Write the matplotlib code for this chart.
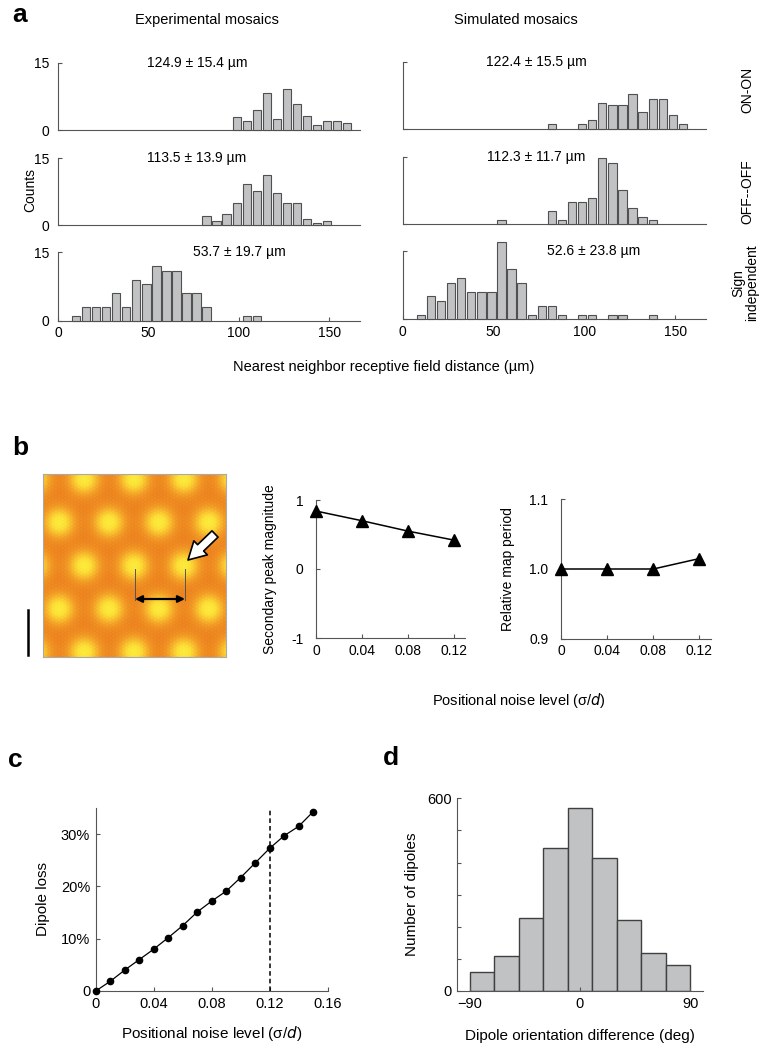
import numpy as np
import matplotlib.pyplot as plt
from matplotlib.colors import LinearSegmentedColormap

plt.rcParams['font.family'] = ['Liberation Sans', 'DejaVu Sans']
plt.rcParams['axes.linewidth'] = 0.8

# ---- data ----
# panel a: histogram counts, bins of ~5.55 um starting at 10 um
bin_start, bin_w = 10.0, 5.55
exp_on = [0, 0, 0, 0, 0, 0, 0, 0, 0, 0, 0, 0, 0, 0, 0, 0, 3, 2, 4.6, 8.3, 2.6, 9.2, 5.8, 3.1, 1.1, 2, 2, 1.6, 0]
sim_on = [0, 0, 0, 0, 0, 0, 0, 0, 0, 0, 0, 0, 0, 1, 0, 0, 1, 2, 5.7, 5.2, 5.2, 7.7, 3.7, 6.7, 6.7, 3, 1, 0, 0]
exp_off = [0, 0, 0, 0, 0, 0, 0, 0, 0, 0, 0, 0, 0, 2, 1, 2.5, 5, 9.2, 7.6, 11.2, 7.2, 5, 5, 1.5, 0.5, 1, 0, 0, 0]
sim_off = [0, 0, 0, 0, 0, 0, 0, 0, 1, 0, 0, 0, 0, 3, 1, 5, 5, 5.9, 14.6, 13.5, 7.5, 3.6, 1.5, 1, 0, 0, 0, 0, 0]
exp_ind = [1, 3, 3, 3, 6, 3, 9, 8, 12, 11, 11, 6, 6, 3, 0, 0, 0, 1, 1, 0, 0, 0, 0, 0, 0, 0, 0, 0, 0]
sim_ind = [1, 5, 4, 8, 9, 6, 6, 6, 17, 11, 8, 1, 3, 3, 1, 0, 1, 1, 0, 1, 1, 0, 0, 1, 0, 0, 0, 0, 0]
stats = [['124.9 ± 15.4 µm', '122.4 ± 15.5 µm'],
         ['113.5 ± 13.9 µm', '112.3 ± 11.7 µm'],
         ['53.7 ± 19.7 µm', '52.6 ± 23.8 µm']]
row_names = ['ON-ON', 'OFF--OFF', 'Sign\nindependent']

# panel b
noise_b = [0, 0.04, 0.08, 0.12]
peak_mag = [0.84, 0.70, 0.55, 0.42]
map_period = [1.0, 1.0, 1.0, 1.015]

# panel c
noise_c = [0, 0.01, 0.02, 0.03, 0.04, 0.05, 0.06, 0.07, 0.08, 0.09, 0.10, 0.11, 0.12, 0.13, 0.14, 0.15]
dipole_loss = [0, 1.85, 4.0, 6.0, 8.0, 10.2, 12.5, 15.1, 17.2, 19.1, 21.7, 24.5, 27.3, 29.7, 31.5, 34.3]

# panel d
orient_edges = [-90, -70, -50, -30, -10, 10, 30, 50, 70, 90]
orient_counts = [60, 108, 227, 445, 571, 415, 221, 117, 80]

W, H = 767, 1050
fig = plt.figure(figsize=(W / 100, H / 100), dpi=100)
SPINE = '#555555'
BAR = '#c1c2c4'


def add_ax(x0, y0, x1, y1):
    return fig.add_axes([x0 / W, 1 - y1 / H, (x1 - x0) / W, (y1 - y0) / H])


def ftext(x, y, s, **kw):
    fig.text(x / W, 1 - y / H, s, **kw)


def style(ax):
    for s in ['top', 'right']:
        ax.spines[s].set_visible(False)
    for s in ['left', 'bottom']:
        ax.spines[s].set_color(SPINE)
    ax.tick_params(direction='in', length=3, width=0.8, color=SPINE, labelsize=10, pad=4)


# ---- panel a ----
centers = bin_start + bin_w * np.arange(len(exp_on))
hists = [[exp_on, sim_on], [exp_off, sim_off], [exp_ind, sim_ind]]
rows_px = [[(62.7, 130.3), (61.7, 128.7)],
           [(158.3, 225.3), (156.7, 224.0)],
           [(252.3, 320.7), (250.7, 319.3)]]
cols_px = [(58, 360), (402.7, 706)]
for r in range(3):
    for c in range(2):
        y0, y1 = rows_px[r][c]
        x0, x1 = cols_px[c]
        ax = add_ax(x0, y0, x1, y1)
        style(ax)
        cnt = np.array(hists[r][c], dtype=float)
        m = cnt > 0
        ax.bar(centers[m], cnt[m], width=bin_w * 0.83, color=BAR, edgecolor='#505050',
               linewidth=0.8, clip_on=False, zorder=3)
        ax.set_xlim(0, 167)
        ax.set_ylim(0, 15)
        ax.set_yticks([0, 15])
        if c == 0:
            ax.set_yticklabels(['0', '15'])
            ax.tick_params(axis='y', pad=6)
        else:
            ax.set_yticklabels([])
        if r == 2:
            ax.set_xticks([0, 50, 100, 150])
        else:
            ax.set_xticks([])
        ax.text([0.46, 0.44][c] if r < 2 else [0.6, 0.63][c], 1.0, stats[r][c],
                transform=ax.transAxes, ha='center', va='center', fontsize=10)

ftext(12, 15, 'a', fontsize=19, fontweight='bold', va='center')
ftext(207, 20, 'Experimental mosaics', fontsize=10.5, ha='center', va='center')
ftext(516, 20, 'Simulated mosaics', fontsize=10.5, ha='center', va='center')
ftext(30, 190, 'Counts', fontsize=10, rotation=90, ha='center', va='center')
ftext(747, 90, row_names[0], fontsize=10, rotation=90, ha='center', va='center')
ftext(747, 192, row_names[1], fontsize=10, rotation=90, ha='center', va='center')
ftext(745, 283, row_names[2], fontsize=10, rotation=90, ha='center', va='center',
      multialignment='center', linespacing=1.0)
ftext(384, 367, 'Nearest neighbor receptive field distance (µm)', fontsize=10.5,
      ha='center', va='center')

# ---- panel b: image ----
ftext(12, 448, 'b', fontsize=19, fontweight='bold', va='center')
axi = add_ax(43, 474, 226, 657)
n = 400
g = np.linspace(0, 183, n)
X, Y = np.meshgrid(g, g)
Z = np.zeros_like(X)
for j in range(-1, 6):
    yc = 5 + 43.3 * j
    off = 16 + (25 if j % 2 == 0 else 0)
    for i in range(-2, 6):
        xc = off + 50 * i
        Z += np.exp(-((X - xc) ** 2 + (Y - yc) ** 2) / (2 * 11 ** 2))
k = 2 * np.pi / 3.2
tex = (np.cos(k * X) + np.cos(k * (0.5 * X + 0.866 * Y)) + np.cos(k * (-0.5 * X + 0.866 * Y))) / 3
Z = Z + 0.07 * tex
cmap = LinearSegmentedColormap.from_list('oy', ['#ec801e', '#f29a26', '#f8bd2e', '#fcdf36', '#fdf040'])
axi.imshow(Z, cmap=cmap, extent=[0, 183, 183, 0], vmin=0.05, vmax=1.1, interpolation='bilinear')
axi.set_xlim(0, 183)
axi.set_ylim(183, 0)
axi.set_xticks([])
axi.set_yticks([])
for s in axi.spines.values():
    s.set_color('#aaaaaa')
    s.set_linewidth(0.8)
axi.plot([92, 92], [95, 126], color='#555555', lw=0.7)
axi.plot([142, 142], [95, 126], color='#555555', lw=0.7)
axi.annotate('', xy=(92, 125), xytext=(142, 125),
             arrowprops=dict(arrowstyle='<|-|>', color='black', lw=1.6, mutation_scale=10,
                             shrinkA=0, shrinkB=0))
axi.annotate('', xy=(145, 86), xytext=(172, 60),
             arrowprops=dict(arrowstyle='simple,head_length=0.9,head_width=1.0,tail_width=0.45',
                             facecolor='white', edgecolor='black', lw=1.2, mutation_scale=14,
                             shrinkA=0, shrinkB=0))
axi.plot([-15, -15], [136, 181], color='black', lw=1.8, clip_on=False)

# ---- panel b: line plots ----
axb1 = add_ax(316, 500, 465, 638)
style(axb1)
axb1.plot(noise_b, peak_mag, color='black', lw=1.1, marker='^', ms=8, clip_on=False, zorder=3)
axb1.set_xlim(0, 0.13)
axb1.set_ylim(-1, 1)
axb1.set_yticks([-1, 0, 1])
axb1.set_yticklabels(['-1', '0', '1'])
axb1.set_xticks(noise_b)
axb1.set_xticklabels(['0', '0.04', '0.08', '0.12'])
axb1.tick_params(axis='y', pad=9)
axb1.set_ylabel('Secondary peak magnitude', fontsize=10, labelpad=10)

axb2 = add_ax(561, 499.3, 711, 638.7)
style(axb2)
axb2.plot(noise_b, map_period, color='black', lw=1.1, marker='^', ms=8, clip_on=False, zorder=3)
axb2.set_xlim(0, 0.13)
axb2.set_ylim(0.9, 1.1)
axb2.set_yticks([0.9, 1.0, 1.1])
axb2.set_yticklabels(['0.9', '1.0', '1.1'])
axb2.set_xticks(noise_b)
axb2.set_xticklabels(['0', '0.04', '0.08', '0.12'])
axb2.tick_params(axis='y', pad=9)
axb2.set_ylabel('Relative map period', fontsize=10, labelpad=10)

ftext(519, 700, 'Positional noise level (σ/$d$)', fontsize=10.5, ha='center', va='center')

# ---- panel c ----
ftext(8, 760, 'c', fontsize=19, fontweight='bold', va='center')
axc = add_ax(95.7, 808, 327.7, 991)
style(axc)
axc.plot(noise_c, dipole_loss, color='black', lw=0.9, marker='o', ms=4.5, clip_on=False, zorder=3)
axc.axvline(0.12, color='black', lw=1.1, ls=(0, (3, 2)))
axc.set_xlim(0, 0.16)
axc.set_ylim(0, 35)
axc.set_xticks([0, 0.04, 0.08, 0.12, 0.16])
axc.set_xticklabels(['0', '0.04', '0.08', '0.12', '0.16'])
axc.set_yticks([0, 10, 20, 30])
axc.set_yticklabels(['0', '10%', '20%', '30%'])
axc.tick_params(labelsize=10.5)
axc.set_ylabel('Dipole loss', fontsize=11, labelpad=8)
axc.set_xlabel('Positional noise level (σ/$d$)', fontsize=11, labelpad=10)

# ---- panel d ----
ftext(383, 758, 'd', fontsize=19, fontweight='bold', va='center')
axd = add_ax(457.3, 798.3, 702.7, 991)
style(axd)
axd.hist(orient_edges[:-1], bins=orient_edges, weights=orient_counts, color=BAR,
         edgecolor='#404040', linewidth=1.0)
axd.set_xlim(-100, 100)
axd.set_ylim(0, 600)
axd.set_xticks([-90, 0, 90])
axd.set_xticklabels(['\u221290', '0', '90'])
axd.set_yticks([0, 600])
axd.set_yticks([100, 200, 300, 400, 500], minor=True)
axd.tick_params(which='minor', direction='in', length=3, width=0.8, color=SPINE)
axd.tick_params(labelsize=10.5)
axd.set_ylabel('Number of dipoles', fontsize=11, labelpad=6)
axd.set_xlabel('Dipole orientation difference (deg)', fontsize=11, labelpad=13)

fig.savefig('out.png', dpi=100)
